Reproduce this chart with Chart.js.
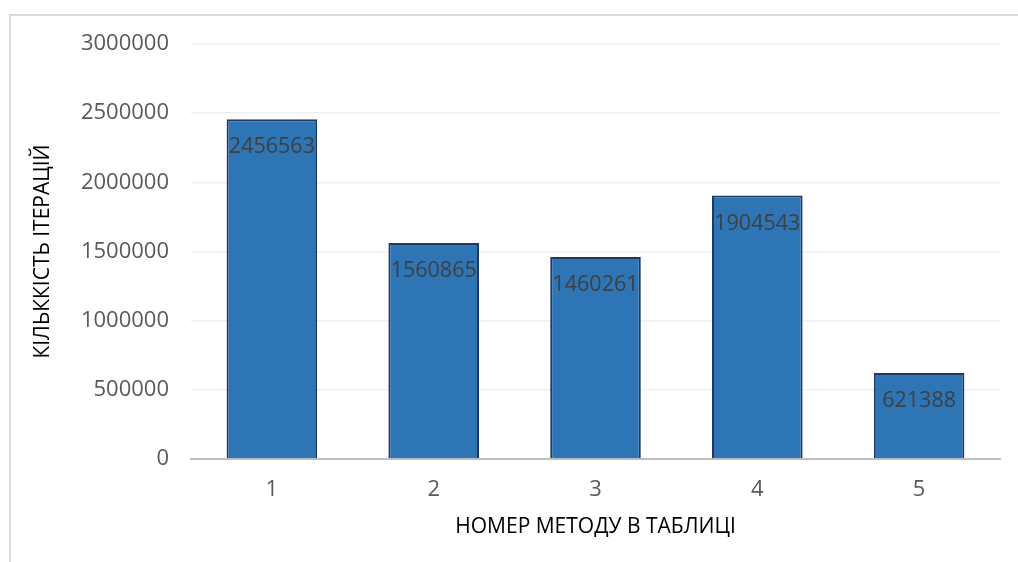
<!DOCTYPE html>
<html>
<head>
<meta charset="utf-8">
<script src="https://cdn.jsdelivr.net/npm/chart.js@4/dist/chart.umd.min.js"></script>
<style>
  body { margin: 0; background: #fff; overflow: hidden; }
  #wrap { position: relative; width: 1018px; height: 562px; }
  #frame { position: absolute; left: 9px; top: 14px; width: 1100px; height: 600px;
           border-left: 2px solid #dadada; border-top: 2px solid #dadada; }
  #viz { position: absolute; left: 0; top: 0; }
</style>
</head>
<body>
<div id="wrap">
  <div id="frame"></div>
  <canvas id="viz" width="1018" height="562"></canvas>
</div>
<script>
var methods = ['1', '2', '3', '4', '5'];
var iterations = [2456563, 1560865, 1460261, 1904543, 621388];
var yTicks = [0, 500000, 1000000, 1500000, 2000000, 2500000, 3000000];

var font = "'Open Sans', 'Liberation Sans', sans-serif";

// value labels just inside the top of each bar
var barLabels = {
  id: 'barLabels',
  afterDatasetsDraw: function (chart) {
    var ctx = chart.ctx;
    var meta = chart.getDatasetMeta(0);
    ctx.save();
    ctx.font = '21.5px ' + font;
    ctx.fillStyle = '#404040';
    ctx.textAlign = 'center';
    ctx.textBaseline = 'middle';
    meta.data.forEach(function (bar, i) {
      ctx.fillText(String(iterations[i]), bar.x, bar.y + 28);
    });
    ctx.restore();
  }
};

var context = document.getElementById('viz').getContext('2d');

var chart = new Chart(context, {
  type: 'bar',
  data: {
    labels: methods,
    datasets: [
      {
        data: iterations,
        backgroundColor: '#2e75b6',
        borderColor: '#1f3864',
        borderWidth: 2,
        borderSkipped: 'start',
        categoryPercentage: 1,
        barPercentage: 0.56,
      },
    ],
  },
  options: {
    responsive: false,
    animation: false,
    layout: { padding: { top: 44, right: 18, left: 0, bottom: 0 } },
    plugins: {
      legend: { display: false },
      tooltip: { enabled: false },
    },
    scales: {
      x: {
        grid: { display: false, drawTicks: false },
        border: { display: true, color: '#bfbfbf', width: 2 },
        ticks: { color: '#595959', font: { family: font, size: 22 }, padding: 18 },
        title: {
          display: true,
          text: 'НОМЕР МЕТОДУ В ТАБЛИЦІ',
          color: '#000',
          font: { family: font, size: 21 },
          padding: { top: 0, bottom: 22 },
        },
        afterFit: function (scale) { scale.height = 103; },
      },
      y: {
        min: 0,
        max: 3000000,
        afterBuildTicks: function (scale) {
          scale.ticks = yTicks.map(function (v) { return { value: v }; });
        },
        grid: {
          drawTicks: false,
          color: function (c) { return c.tick && c.tick.value === 0 ? 'rgba(0,0,0,0)' : '#efefef'; },
          lineWidth: 1.5,
        },
        border: { display: false },
        ticks: {
          color: '#595959',
          font: { family: font, size: 22 },
          padding: 22,
          callback: function (v) { return String(v); },
        },
        title: {
          display: true,
          text: 'КІЛЬККІСТЬ ІТЕРАЦІЙ',
          color: '#000',
          font: { family: font, size: 21 },
          padding: { top: 30, bottom: 0 },
        },
        afterFit: function (scale) { scale.width = 191; },
      },
    },
  },
  plugins: [barLabels],
});
</script>
</body>
</html>
